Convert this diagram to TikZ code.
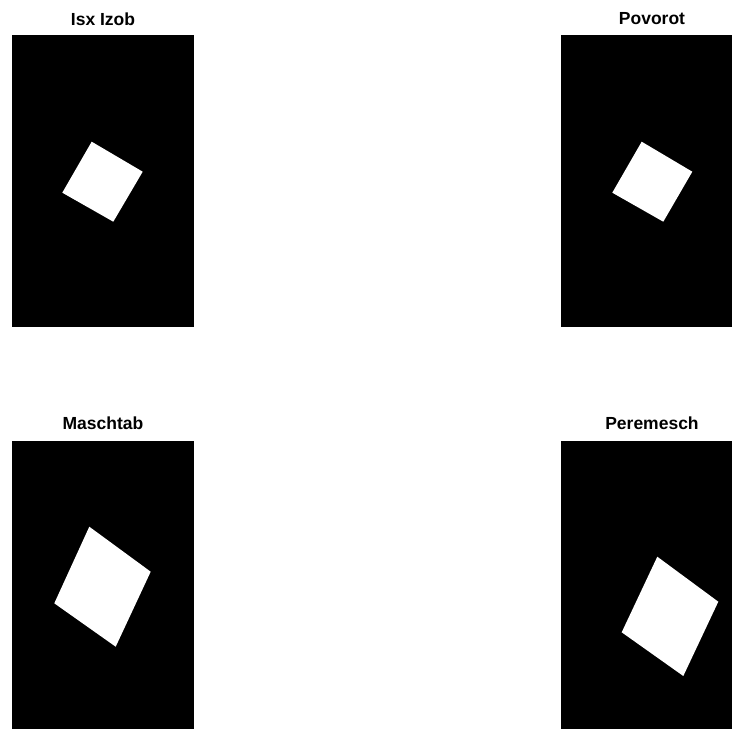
\documentclass[tikz,border=0pt]{standalone}
\usepackage{fontspec}
\setmainfont{Liberation Sans}

\begin{document}
\begin{tikzpicture}[x=1pt, y=-1pt,
    panel/.style={fill=black},
    plate/.style={fill=white},
    ptitle/.style={font=\fontsize{17.5}{20}\selectfont\bfseries, inner sep=0pt}]
  \useasboundingbox (0,0) rectangle (732,729);
  \clip (0,0) rectangle (732,729);
  % draw black image panels
  \fill[panel] (12,35) rectangle (194,327);
  \fill[panel] (561,35) rectangle (743,327);
  \fill[panel] (12,441) rectangle (194,733);
  \fill[panel] (561,441) rectangle (743,733);
  % draw panel titles
  \node[ptitle] (title_isx) at (103,19) {Isx Izob};
  \node[ptitle] (title_povorot) at (652,19) {Povorot};
  \node[ptitle] (title_maschtab) at (103,423) {Maschtab};
  \node[ptitle] (title_peremesch) at (652,423) {Peremesch};
  % draw white squares
  \fill[plate] (91.7,141.7) -- (142.7,171.7) -- (113.3,221.7) -- (62.3,192.7) -- cycle;
  \fill[plate] (641.7,141.7) -- (692.3,171.7) -- (663.3,221.7) -- (612.3,192.7) -- cycle;
  \fill[plate] (89.3,526.7) -- (150.7,571.7) -- (115.7,646.7) -- (54.3,603.3) -- cycle;
  \fill[plate] (657.3,556.7) -- (718.3,601.7) -- (683.3,676) -- (621.7,632.3) -- cycle;
\end{tikzpicture}
\end{document}
